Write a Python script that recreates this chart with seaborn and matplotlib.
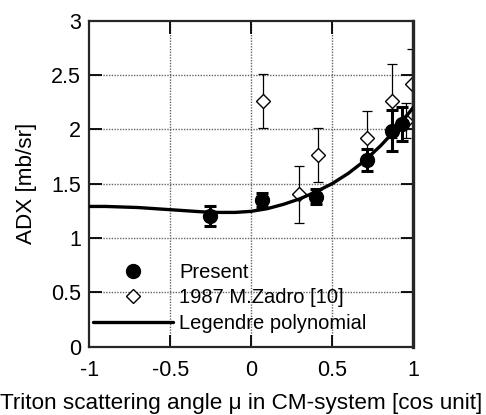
import numpy as np
import pandas as pd
import seaborn as sns
import matplotlib.pyplot as plt

# present data (filled circles)
x_present = [-0.255, 0.065, 0.40, 0.714, 0.872, 0.93]
y_present = [1.20, 1.35, 1.38, 1.717, 1.987, 2.05]
e_present = [0.09, 0.065, 0.07, 0.105, 0.19, 0.16]

# 1987 M.Zadro [10] (open diamonds)
x_zadro = [0.075, 0.295, 0.41, 0.718, 0.868, 0.955, 0.996]
y_zadro = [2.26, 1.40, 1.763, 1.923, 2.26, 2.08, 2.414]
e_zadro = [0.25, 0.26, 0.25, 0.25, 0.34, 0.16, 0.33]

# Legendre polynomial fit
x_fit = [-1.0, -0.9, -0.8, -0.7, -0.6, -0.5, -0.4, -0.3, -0.2, -0.1, 0.0,
         0.1, 0.2, 0.3, 0.4, 0.5, 0.6, 0.7, 0.8, 0.9, 1.0]
y_fit = [1.29, 1.29, 1.285, 1.28, 1.27, 1.26, 1.25, 1.24, 1.235, 1.235, 1.245,
         1.27, 1.31, 1.36, 1.425, 1.50, 1.595, 1.71, 1.85, 2.01, 2.20]

sns.set_style('ticks')
plt.rcParams['font.family'] = ['Liberation Sans', 'DejaVu Sans']
plt.rcParams['text.color'] = 'black'
plt.rcParams['axes.labelcolor'] = 'black'

fig = plt.figure(figsize=(4.86, 4.15), dpi=100)
ax = fig.add_axes([0.184, 0.165, 0.666, 0.785])

grid_kw = dict(color='#666666', lw=1.0, ls=(0, (1, 1)), zorder=0)
for gx in [-0.5, 0, 0.5]:
    ax.axvline(gx, **grid_kw)
for gy in [0.5, 1, 1.5, 2, 2.5]:
    ax.axhline(gy, **grid_kw)

df_fit = pd.DataFrame({'x': x_fit, 'y': y_fit})
sns.lineplot(data=df_fit, x='x', y='y', sort=False, color='black', lw=2.4,
             ax=ax, label='Legendre polynomial', zorder=3.5)

ax.errorbar(x_zadro, y_zadro, yerr=e_zadro, fmt='none', ecolor='black',
            elinewidth=0.9, capsize=3.5, capthick=0.9, zorder=2)
ax.errorbar(x_present, y_present, yerr=e_present, fmt='none', ecolor='black',
            elinewidth=2.2, capsize=4, capthick=2.2, zorder=4)

ax.plot(x_zadro, y_zadro, ls='none', marker='D', ms=6.8, mfc='white',
        mec='black', mew=1.0, zorder=2.5, label='1987 M.Zadro [10]')
ax.plot(x_present, y_present, ls='none', marker='o', ms=10, mfc='black',
        mec='black', zorder=5, label='Present')

ax.set_xlim(-1, 1)
ax.set_ylim(0, 3)
ax.set_xticks([-1, -0.5, 0, 0.5, 1])
ax.set_xticklabels(['-1', '-0.5', '0', '0.5', '1'])
ax.set_yticks([0, 0.5, 1, 1.5, 2, 2.5, 3])
ax.set_yticklabels(['0', '0.5', '1', '1.5', '2', '2.5', '3'])
ax.tick_params(direction='in', length=9, width=1.3, labelsize=15.5,
               top=True, right=True, colors='black')
ax.tick_params(axis='x', pad=10)
ax.tick_params(axis='y', pad=6)
for side in ['left', 'top', 'bottom']:
    ax.spines[side].set_linewidth(1.6)
ax.spines['right'].set_linewidth(2.4)

ax.set_xlabel('Triton scattering angle μ in CM-system [cos unit]', fontsize=16.2)
ax.xaxis.set_label_coords(0.468, -0.143)
ax.set_ylabel('ADX [mb/sr]', fontsize=16.2, labelpad=10)

h, l = ax.get_legend_handles_labels()
order = [l.index('Present'), l.index('1987 M.Zadro [10]'), l.index('Legendre polynomial')]
ax.legend([h[i] for i in order], [l[i] for i in order], loc='lower left',
          bbox_to_anchor=(0.01, 0.042), frameon=False, fontsize=14.5,
          handlelength=4.0, handletextpad=0.3, labelspacing=0.32,
          borderpad=0, borderaxespad=0)

fig.savefig('out.png', dpi=100)
